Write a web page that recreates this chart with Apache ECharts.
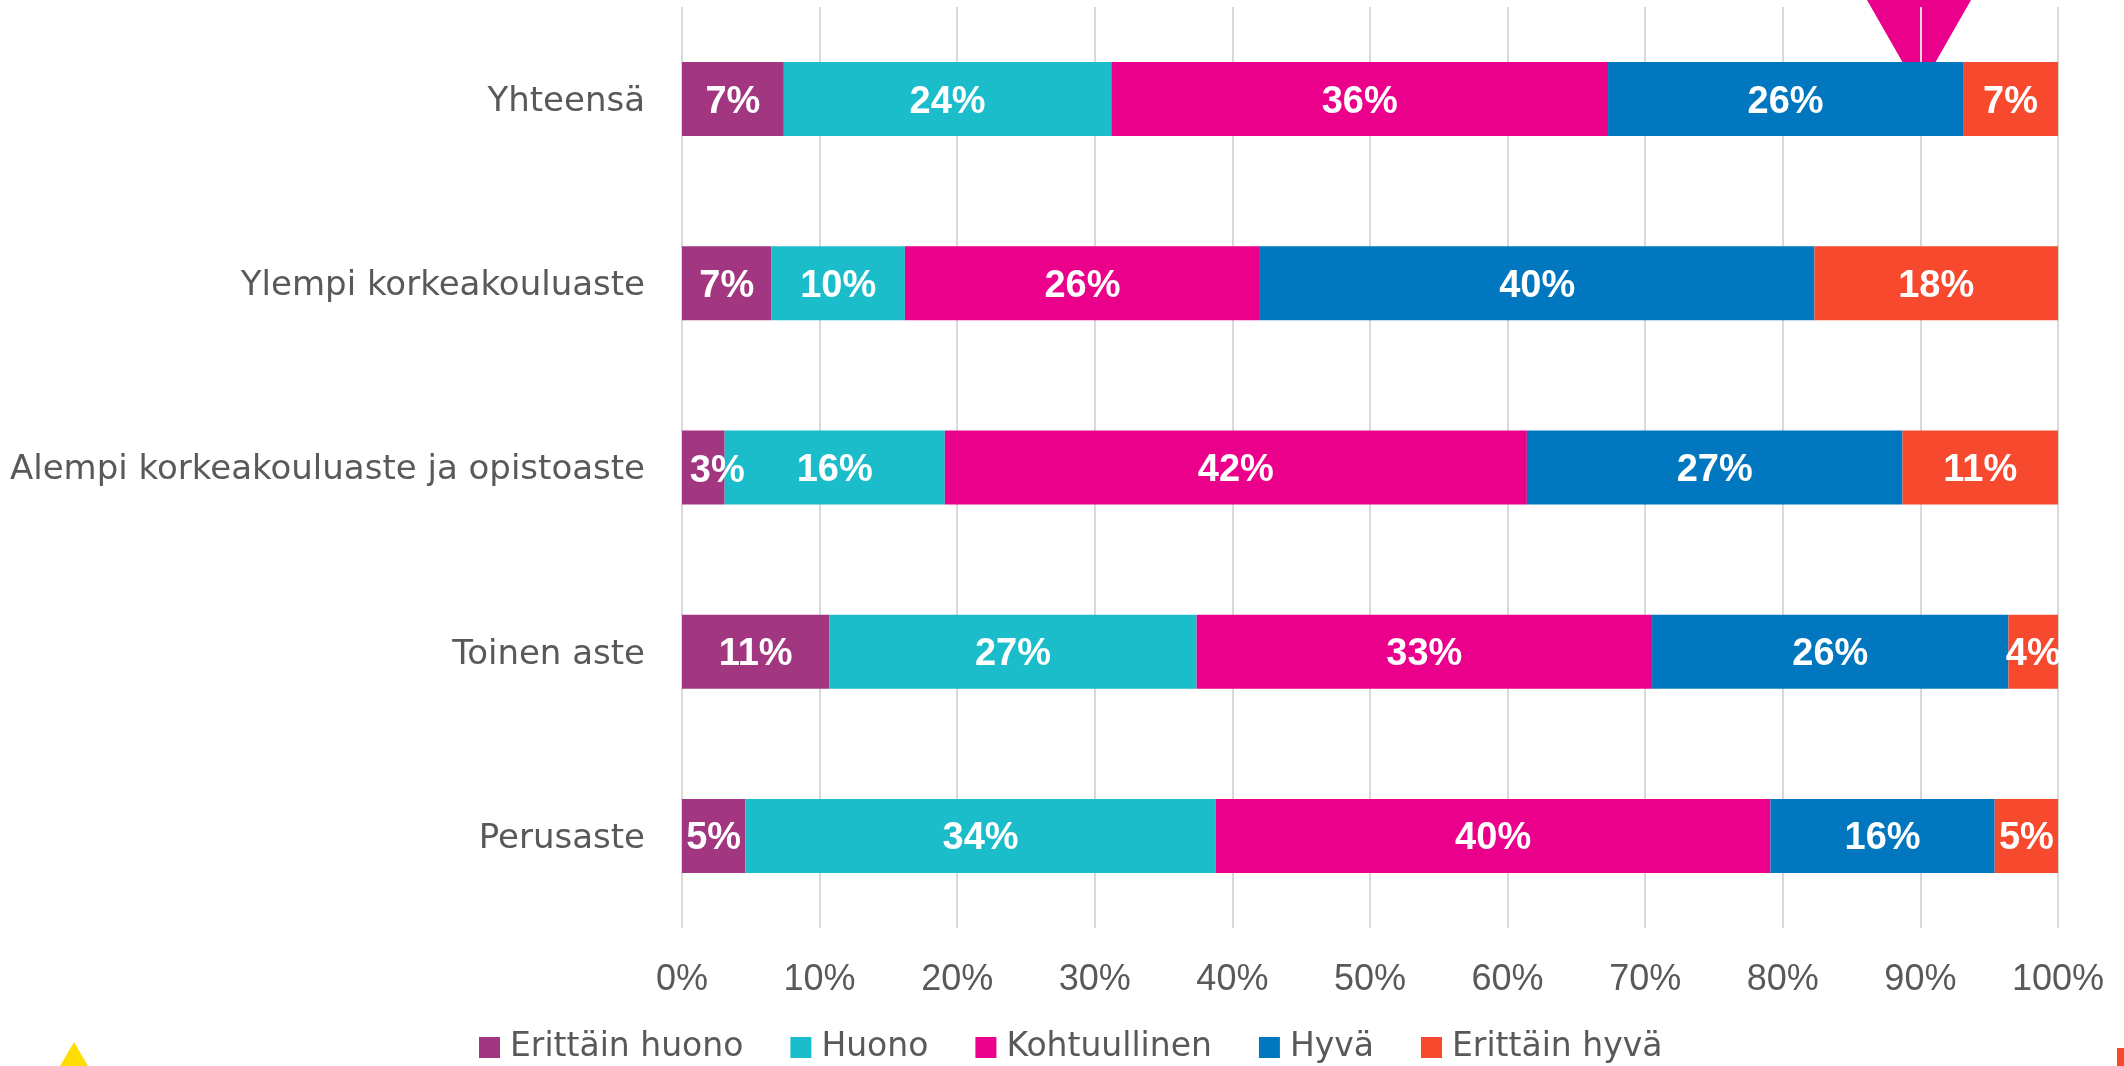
<!DOCTYPE html>
<html>
<head>
<meta charset="utf-8">
<script src="https://cdn.jsdelivr.net/npm/echarts@6/dist/echarts.min.js"></script>
<style>
html,body{margin:0;padding:0;background:#fff;}
#chart{width:2124px;height:1066px;}
</style>
</head>
<body>
<div id="chart"></div>
<script>
const categories = ['Yhteensä', 'Ylempi korkeakouluaste', 'Alempi korkeakouluaste ja opistoaste', 'Toinen aste', 'Perusaste'];
const seriesNames = ['Erittäin huono', 'Huono', 'Kohtuullinen', 'Hyvä', 'Erittäin hyvä'];
const erittainHuono = [7.4, 6.5, 3.1, 10.7, 4.6];
const huono = [23.8, 9.7, 16.0, 26.7, 34.2];
const kohtuullinen = [36.1, 25.8, 42.3, 33.1, 40.3];
const hyva = [25.8, 40.3, 27.3, 25.9, 16.3];
const erittainHyva = [6.9, 17.7, 11.3, 3.6, 4.6];
const xTicks = [0, 10, 20, 30, 40, 50, 60, 70, 80, 90, 100];

const colors = ['#A33680', '#1BBDCA', '#EB008B', '#0077BF', '#F6492E'];
const allValues = [erittainHuono, huono, kohtuullinen, hyva, erittainHyva];
const FONT = '"Liberation Sans", Arial, sans-serif';
const WIDE = '"DejaVu Sans", sans-serif';

const chart = echarts.init(document.getElementById('chart'), null, {renderer: 'canvas'});

const series = seriesNames.map((name, i) => ({
  name: name,
  type: 'bar',
  stack: 'total',
  barWidth: 74,
  itemStyle: {color: colors[i]},
  label: {
    show: true,
    position: 'inside',
    color: '#fff',
    fontFamily: FONT,
    fontWeight: 'bold',
    fontSize: 38,
    offset: [0, 3],
    formatter: p => Math.round(p.value) + '%'
  },
  data: allValues[i].map((v, j) => {
    // small label nudge where a segment is narrower than its label
    if (i === 0 && v < 4) return {value: v, label: {offset: [14, 4]}};
    return v;
  })
}));

const option = {
  backgroundColor: '#fff',
  animation: false,
  color: colors,
  grid: {left: 682, right: 66, top: 7, height: 921, containLabel: false, outerBoundsMode: 'none'},
  xAxis: {
    type: 'value',
    min: xTicks[0],
    max: xTicks[xTicks.length - 1],
    interval: 10,
    axisLine: {show: false},
    axisTick: {show: false},
    splitLine: {show: true, lineStyle: {color: '#D9D9D9', width: 2}},
    axisLabel: {
      formatter: '{value}%',
      color: '#595959',
      fontFamily: FONT,
      fontSize: 36,
      margin: 34
    }
  },
  yAxis: {
    type: 'category',
    inverse: true,
    data: categories,
    axisLine: {show: false},
    axisTick: {show: false},
    splitLine: {show: false},
    axisLabel: {
      color: '#595959',
      fontFamily: WIDE,
      fontSize: 34,
      margin: 37,
      verticalAlign: 'top',
      lineHeight: 6
    }
  },
  legend: {
    data: seriesNames,
    left: 479,
    top: 1031,
    padding: 0,
    itemWidth: 21,
    itemHeight: 21,
    itemGap: 47,
    icon: 'rect',
    textStyle: {
      color: '#595959',
      fontFamily: WIDE,
      fontSize: 33,
      padding: [0, 0, 0, 5]
    }
  },
  graphic: {
    elements: [
      {
        type: 'polygon',
        z: -10,
        shape: {points: [[1867, 0], [1971, 0], [1919, 91]]},
        style: {fill: '#EB008B'}
      },
      {
        type: 'polygon',
        shape: {points: [[60, 1066], [88, 1066], [74, 1042]]},
        style: {fill: '#FFDD00'}
      },
      {
        type: 'rect',
        shape: {x: 2117, y: 1048, width: 10, height: 20},
        style: {fill: '#F6492E'}
      }
    ]
  },
  series: series
};

chart.setOption(option);
</script>
</body>
</html>
